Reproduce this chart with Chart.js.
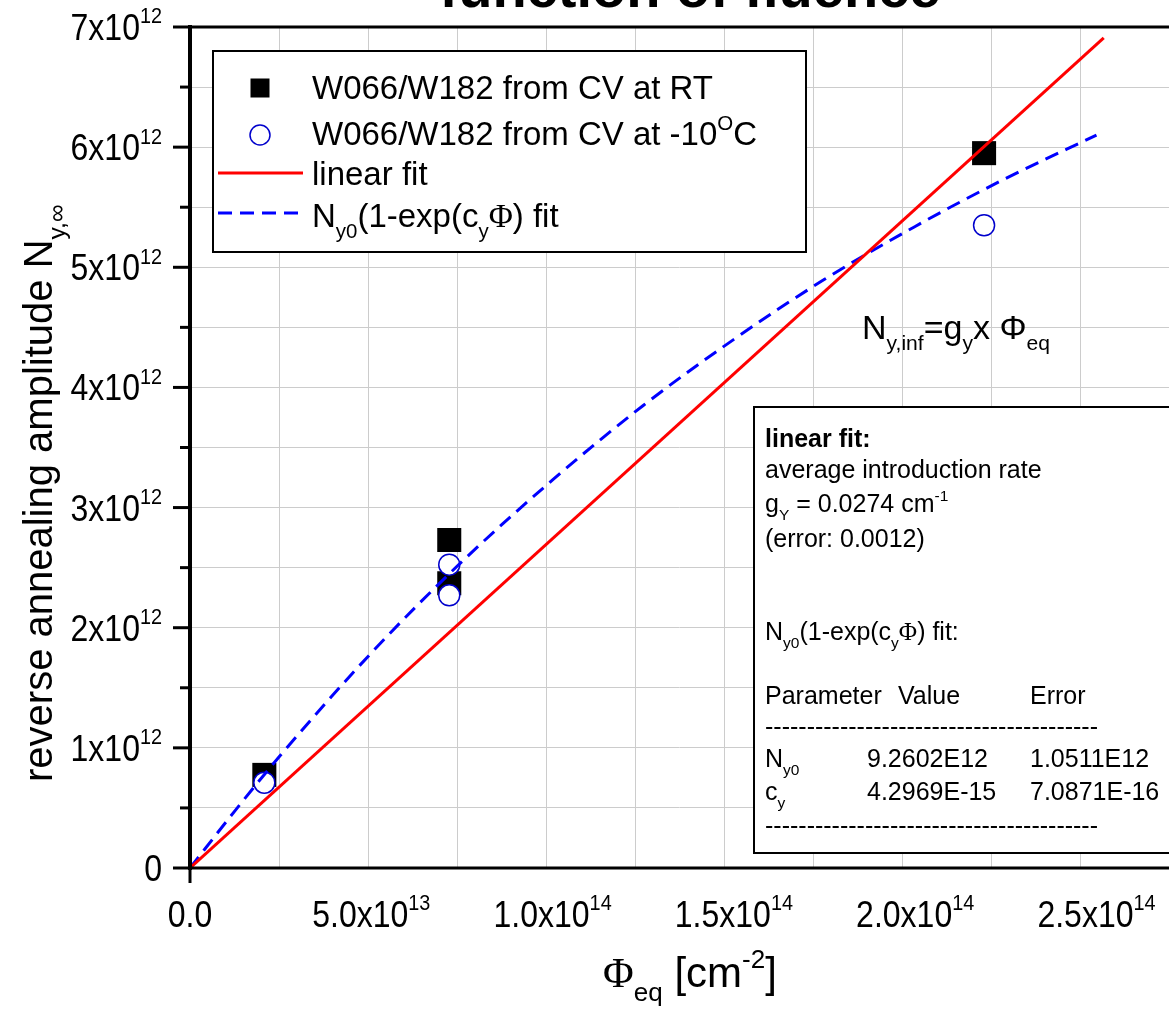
<!DOCTYPE html>
<html>
<head>
<meta charset="utf-8">
<script src="https://cdn.jsdelivr.net/npm/chart.js"></script>
<style>
html, body { margin: 0; padding: 0; background: #fff; overflow: hidden; }
#wrap { width: 1169px; height: 1023px; overflow: hidden; }
</style>
</head>
<body>
<div id="wrap"><canvas id="fluenceChart" width="1186" height="1023"></canvas></div>
<script>
// measured points (fluence in cm^-2, amplitude in cm^-3)
const phiRT = [2.05e13, 7.15e13, 7.15e13, 2.19e14];
const nyRT = [0.775e12, 2.73e12, 2.37e12, 5.95e12];
const phiCold = [2.05e13, 7.15e13, 7.15e13, 2.19e14];
const nyCold = [0.71e12, 2.525e12, 2.27e12, 5.35e12];

// fit curves
const linPhi = [0, 2.52e14];
const linNy = [0, 6.91e12];
const expPhi = [0, 1.25e13, 2.5e13, 5e13, 7.5e13, 1e14, 1.25e14, 1.5e14, 1.75e14, 2e14, 2.25e14, 2.5e14];
const expNy = [0, 0.48e12, 0.94e12, 1.79e12, 2.55e12, 3.23e12, 3.85e12, 4.40e12, 4.90e12, 5.34e12, 5.74e12, 6.10e12];

// tick labels
const xTickVals = [0, 5e13, 1e14, 1.5e14, 2e14, 2.5e14];
const xTickBase = ["0.0", "5.0x10", "1.0x10", "1.5x10", "2.0x10", "2.5x10"];
const xTickExp = ["", "13", "14", "14", "14", "14"];
const yTickVals = [0, 1e12, 2e12, 3e12, 4e12, 5e12, 6e12, 7e12];
const yTickBase = ["0", "1x10", "2x10", "3x10", "4x10", "5x10", "6x10", "7x10"];
const yTickExp = ["", "12", "12", "12", "12", "12", "12", "12"];

const SANS = "Liberation Sans";
const SERIF = "Liberation Serif";

function pts(xs, ys) {
    return xs.map((x, i) => ({ x: x, y: ys[i] }));
}

// text with sub/superscripts: parts = [[text, kind, family, weight]]
function rich(ctx, parts, x, y, size, align, sy) {
    const pieces = parts.map(p => {
        const small = p[1] === "sub" || p[1] === "sup";
        const s = small ? size * 0.62 : size;
        const font = (p[3] || "") + " " + s + "px \"" + (p[2] || SANS) + "\"";
        ctx.font = font;
        let dy = 0;
        if (p[1] === "sub") dy = size * 0.33;
        if (p[1] === "sup") dy = -size * 0.45;
        return { t: p[0], font: font, w: ctx.measureText(p[0]).width, dy: dy };
    });
    const total = pieces.reduce((a, b) => a + b.w, 0);
    let cx = x;
    if (align === "center") cx = x - total / 2;
    if (align === "right") cx = x - total;
    ctx.save();
    ctx.translate(0, y);
    ctx.scale(1, sy || 1);
    ctx.textAlign = "left";
    ctx.textBaseline = "alphabetic";
    pieces.forEach(p => {
        ctx.font = p.font;
        ctx.fillText(p.t, cx, p.dy);
        cx += p.w;
    });
    ctx.restore();
    return total;
}

function line(ctx, x1, y1, x2, y2) {
    ctx.beginPath();
    ctx.moveTo(x1, y1);
    ctx.lineTo(x2, y2);
    ctx.stroke();
}

const decor = {
    id: "decor",
    afterDraw(chart) {
        const ctx = chart.ctx;
        const ca = chart.chartArea;
        const xs = chart.scales.x;
        const ys = chart.scales.y;
        ctx.save();
        ctx.fillStyle = "#000";
        ctx.strokeStyle = "#000";

        // axes frame
        ctx.lineWidth = 3;
        line(ctx, ca.left - 2, ca.bottom, ca.right, ca.bottom);
        line(ctx, ca.left - 2, ca.top, ca.right, ca.top);
        ctx.lineWidth = 4;
        line(ctx, ca.left, ca.top - 2, ca.left, ca.bottom + 2);

        // ticks every 2.5e13 / 0.5e12, long ones at labelled values
        ctx.lineWidth = 3;
        xs.ticks.forEach(t => {
            const k = t.value / 2.5e13;
            if (Math.abs(k - Math.round(k)) > 1e-6) return;
            const px = xs.getPixelForValue(t.value);
            const major = Math.round(k) % 2 === 0;
            line(ctx, px, ca.bottom, px, ca.bottom + (major ? 15 : 8));
            line(ctx, px, ca.top, px, ca.top + (major ? 16 : 9));
        });
        ys.ticks.forEach(t => {
            const py = ys.getPixelForValue(t.value);
            const major = Math.round(t.value / 0.5e12) % 2 === 0;
            line(ctx, ca.left - (major ? 17 : 10), py, ca.left, py);
        });

        // tick labels
        xTickVals.forEach((v, i) => {
            const parts = [[xTickBase[i]]];
            if (xTickExp[i]) parts.push([xTickExp[i], "sup"]);
            rich(ctx, parts, xs.getPixelForValue(v), 927, 32, "center", 1.15);
        });
        yTickVals.forEach((v, i) => {
            const parts = [[yTickBase[i]]];
            if (yTickExp[i]) parts.push([yTickExp[i], "sup"]);
            rich(ctx, parts, 162, ys.getPixelForValue(v) + 13, 32, "right", 1.15);
        });

        // axis titles
        rich(ctx, [["\u03A6", "", SERIF], ["eq", "sub"], [" [cm"], ["-2", "sup"], ["]"]], 690, 987, 42, "center");
        ctx.save();
        ctx.translate(52, 782);
        ctx.rotate(-Math.PI / 2);
        rich(ctx, [["reverse annealing amplitude N"], ["y,\u221E", "sub"]], 0, 0, 40, "left");
        ctx.restore();

        // chart title (cut off at the top)
        rich(ctx, [["function of fluence", "", SANS, "bold"]], 690, 7, 56, "center");

        // formula annotation
        rich(ctx, [["N"], ["y,inf", "sub"], ["=g"], ["y", "sub"], ["x \u03A6"], ["eq", "sub"]], 862, 339, 34, "left");

        // legend box
        ctx.fillStyle = "#fff";
        ctx.fillRect(213, 51, 593, 201);
        ctx.lineWidth = 2;
        ctx.strokeRect(213, 51, 593, 201);
        ctx.fillStyle = "#000";
        ctx.fillRect(250.5, 78.5, 19, 19);
        ctx.strokeStyle = "#0000cc";
        ctx.lineWidth = 1.5;
        ctx.beginPath();
        ctx.arc(260, 135, 10, 0, Math.PI * 2);
        ctx.stroke();
        ctx.strokeStyle = "#ff0000";
        ctx.lineWidth = 3;
        line(ctx, 218, 173, 303, 173);
        ctx.strokeStyle = "#0000ff";
        ctx.setLineDash([14, 8]);
        line(ctx, 218, 213, 306, 213);
        ctx.setLineDash([]);
        ctx.fillStyle = "#000";
        rich(ctx, [["W066/W182 from CV at RT"]], 312, 99, 33, "left");
        rich(ctx, [["W066/W182 from CV at -10"], ["O", "sup"], ["C"]], 312, 145, 33, "left");
        rich(ctx, [["linear fit"]], 312, 185, 33, "left");
        rich(ctx, [["N"], ["y0", "sub"], ["(1-exp(c"], ["y", "sub"], ["\u03A6", "", SERIF], [") fit"]], 312, 227, 33, "left");

        // fit results box
        ctx.fillStyle = "#fff";
        ctx.fillRect(754, 407, 500, 446);
        ctx.strokeStyle = "#000";
        ctx.lineWidth = 2;
        ctx.strokeRect(754, 407, 500, 446);
        ctx.fillStyle = "#000";
        const fs = 25;
        const dashes = "-".repeat(40);
        rich(ctx, [["linear fit:", "", SANS, "bold"]], 765, 447, fs, "left");
        rich(ctx, [["average introduction rate"]], 765, 478, fs, "left");
        rich(ctx, [["g"], ["Y", "sub"], [" = 0.0274 cm"], ["-1", "sup"]], 765, 512, fs, "left");
        rich(ctx, [["(error: 0.0012)"]], 765, 547, fs, "left");
        rich(ctx, [["N"], ["y0", "sub"], ["(1-exp(c"], ["y", "sub"], ["\u03A6", "", SERIF], [") fit:"]], 765, 640, fs, "left");
        rich(ctx, [["Parameter"]], 765, 704, fs, "left");
        rich(ctx, [["Value"]], 898, 704, fs, "left");
        rich(ctx, [["Error"]], 1030, 704, fs, "left");
        rich(ctx, [[dashes]], 765, 735, fs, "left");
        rich(ctx, [["N"], ["y0", "sub"]], 765, 767, fs, "left");
        rich(ctx, [["9.2602E12"]], 867, 767, fs, "left");
        rich(ctx, [["1.0511E12"]], 1030, 767, fs, "left");
        rich(ctx, [["c"], ["y", "sub"]], 765, 800, fs, "left");
        rich(ctx, [["4.2969E-15"]], 867, 800, fs, "left");
        rich(ctx, [["7.0871E-16"]], 1030, 800, fs, "left");
        rich(ctx, [[dashes]], 765, 834, fs, "left");
        ctx.restore();
    }
};

new Chart("fluenceChart", {
    type: "scatter",
    data: {
        datasets: [
            {
                label: "linear fit",
                data: pts(linPhi, linNy),
                showLine: true,
                borderColor: "#ff0000",
                borderWidth: 3,
                pointRadius: 0
            },
            {
                label: "Ny0(1-exp(cy Phi) fit",
                data: pts(expPhi, expNy),
                showLine: true,
                borderColor: "#0000ff",
                borderWidth: 3,
                borderDash: [14, 8],
                cubicInterpolationMode: "monotone",
                pointRadius: 0
            },
            {
                label: "W066/W182 from CV at -10C",
                data: pts(phiCold, nyCold),
                pointStyle: "circle",
                pointRadius: 10.5,
                borderColor: "#0000cc",
                borderWidth: 1.5,
                backgroundColor: "#ffffff"
            },
            {
                label: "W066/W182 from CV at RT",
                data: pts(phiRT, nyRT),
                pointStyle: "rect",
                pointRadius: 17,
                borderColor: "#000000",
                borderWidth: 0,
                backgroundColor: "#000000"
            }
        ]
    },
    options: {
        responsive: false,
        animation: false,
        layout: { padding: { left: 190, top: 27, right: 0, bottom: 155 } },
        scales: {
            x: {
                type: "linear",
                min: 0,
                max: 2.7e14,
                ticks: { display: false, stepSize: 2.5e13 },
                grid: { color: "#cccccc", lineWidth: 1, drawTicks: false },
                border: { display: false }
            },
            y: {
                type: "linear",
                min: 0,
                max: 7e12,
                ticks: { display: false, stepSize: 0.5e12 },
                grid: { color: "#cccccc", lineWidth: 1, drawTicks: false },
                border: { display: false }
            }
        },
        plugins: {
            legend: { display: false },
            tooltip: { enabled: false }
        }
    },
    plugins: [decor]
});
</script>
</body>
</html>
